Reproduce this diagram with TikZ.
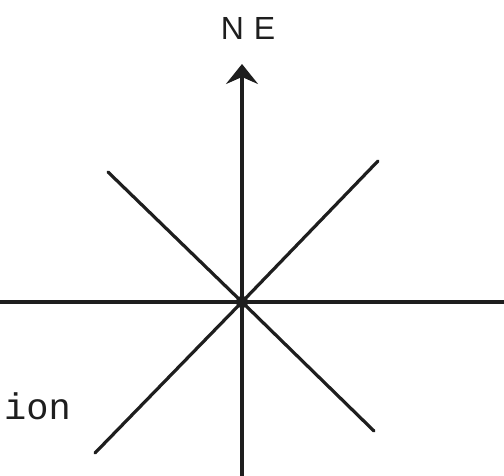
\documentclass[tikz,border=0pt]{standalone}
\usepackage{fontspec}
\setmainfont{Liberation Sans}
\setmonofont{Liberation Mono}
\usetikzlibrary{arrows.meta}
\definecolor{inkblack}{HTML}{1E1E1E}

\begin{document}
\begin{tikzpicture}[x=1pt, y=-1pt, >={Stealth[length=20pt, width=32pt, inset=7pt]},
  ray/.style={draw=inkblack, line width=3.2pt, line cap=round},
  lab/.style={font=\fontsize{32}{32}\selectfont, text=inkblack, inner sep=0pt}]
\useasboundingbox (0,0) rectangle (504,476);
\coordinate (O) at (242,302);
% arms of the star
\coordinate (NW) at (108,172);
\coordinate (NEe) at (378,161);
\coordinate (SW) at (95,453);
\coordinate (SE) at (374,431);
\coordinate (W) at (0,302);
\coordinate (E) at (504,302);
\coordinate (S) at (242,476);
\coordinate (N) at (242,64);
\foreach \a in {NW,NEe,SW,SE} {
  \draw[ray] (O) -- (\a);
}
\draw[ray, line cap=butt] (W) -- (E);
\draw[ray, line cap=butt, ->] (S) -- (N);
\fill[inkblack] (O) circle (6pt);
\node[lab] (title) at (248,28) {N\hspace{10pt}E};
\node[lab, font=\ttfamily\fontsize{37}{37}\selectfont, anchor=base west] (side) at (4,419) {ion};
\end{tikzpicture}
\end{document}
